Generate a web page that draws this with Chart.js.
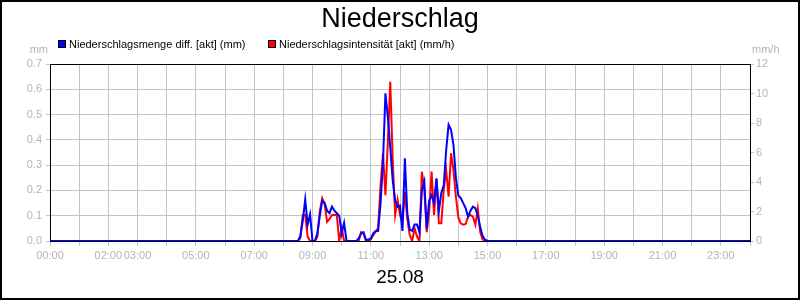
<!DOCTYPE html>
<html>
<head>
<meta charset="utf-8">
<script src="https://cdn.jsdelivr.net/npm/chart.js@4"></script>
<style>
  body { margin: 0; background: #fff; }
  canvas { display: block; }
</style>
</head>
<body>
<canvas id="grafico" width="800" height="300"></canvas>
<script>
// Daten (5-Minuten-Werte)
const zeiten = [
  '00:00',
  '08:30','08:35','08:40','08:45','08:50','08:55',
  '09:00','09:05','09:10','09:15','09:20','09:25','09:30','09:35','09:40','09:45','09:50','09:55',
  '10:00','10:05','10:10','10:15','10:20','10:25','10:30','10:35','10:40','10:45','10:50','10:55',
  '11:00','11:05','11:10','11:15','11:20','11:25','11:30','11:35','11:40','11:45','11:50','11:55',
  '12:00','12:05','12:10','12:15','12:20','12:25','12:30','12:35','12:40','12:45','12:50','12:55',
  '13:00','13:05','13:10','13:15','13:20','13:25','13:30','13:35','13:40','13:45','13:50','13:55',
  '14:00','14:05','14:10','14:15','14:20','14:25','14:30','14:35','14:40','14:45','14:50','14:55',
  '15:00','15:05',
  '24:00'
]

const mengeDiff = [
  0,
  0, 0.02, 0.08, 0.165, 0.065, 0.105,
  0, 0, 0.03, 0.10, 0.159, 0.15, 0.12, 0.11, 0.136, 0.12, 0.11, 0.10,
  0.03, 0.072, 0, 0, 0, 0, 0, 0.01, 0.03, 0.035, 0.005, 0.005,
  0.01, 0.03, 0.04, 0.04, 0.15, 0.31, 0.584, 0.49, 0.37, 0.24, 0.16, 0.135,
  0.14, 0.04, 0.327, 0.11, 0.045, 0.04, 0.065, 0.065, 0.035, 0.2, 0.235, 0.05,
  0.16, 0.18, 0.15, 0.248, 0.12, 0.19, 0.22, 0.36, 0.46, 0.44, 0.38, 0.25,
  0.18, 0.17, 0.15, 0.13, 0.096, 0.12, 0.136, 0.13, 0.1, 0.055, 0.02, 0.005,
  0, 0,
  0
]

const intensitaet = [
  0,
  0, 0.2, 1.76, 1.76, 0.3, 0,
  0, 0, 0.3, 2.0, 2.9, 2.5, 1.3, 1.5, 1.76, 1.76, 1.76, 0,
  0.9, 0, 0, 0, 0, 0, 0, 0, 0.6, 0.5, 0, 0,
  0.1, 0.4, 0.63, 0.9, 3.8, 5.95, 3.1, 6.7, 10.8, 5.5, 1.76, 2.8,
  1.76, 1.2, 3.34, 1.5, 0.4, 0, 0.86, 0.3, 0, 4.7, 3.5, 0.6,
  2.0, 4.7, 1.76, 4.2, 1.2, 1.2, 3.5, 4.8, 3.0, 5.95, 4.8, 3.0,
  1.6, 1.2, 1.1, 1.15, 1.65, 1.76, 1.65, 1.1, 2.2, 0.6, 0.1, 0,
  0, 0,
  0
]

const xBeschriftung = ['00:00','02:00','03:00','05:00','07:00','09:00','11:00','13:00','15:00','17:00','19:00','21:00','23:00']

const grau = '#b4b4b4'
const gitter = '#c4c4c4'
const schrift = '"Liberation Sans", Arial, sans-serif'

Chart.defaults.font.family = schrift
Chart.defaults.font.size = 11

const stunden = t => {
  const [h, m] = t.split(':').map(Number)
  return h + m / 60
}
const punkte = werte => zeiten.map((t, i) => ({ x: stunden(t), y: werte[i] }))

const hh = v => String(v).padStart(2, '0') + ':00'

// Rahmen, Titel, Legende, Einheiten
const rahmen = {
  id: 'rahmen',
  beforeDatasetsDraw(chart) {
    const { ctx, chartArea: a } = chart
    ctx.save()
    ctx.strokeStyle = '#000'
    ctx.lineWidth = 1
    ctx.strokeRect(a.left + 0.5, a.top + 0.5, a.right - a.left, a.bottom - a.top)
    ctx.restore()
  },
  afterDraw(chart) {
    const { ctx, width, height } = chart
    ctx.save()
    ctx.fillStyle = '#000'
    ctx.textBaseline = 'alphabetic'
    ctx.textAlign = 'center'
    ctx.font = '27px ' + schrift
    ctx.fillText('Niederschlag', 400, 27)

    // Legende
    ctx.font = '11px ' + schrift
    ctx.textAlign = 'left'
    const startX = [58, 268]
    chart.data.datasets.forEach((ds, i) => {
      const x = startX[i]
      ctx.fillStyle = ds.borderColor
      ctx.fillRect(x, 40, 8, 8)
      ctx.strokeStyle = '#000'
      ctx.lineWidth = 1
      ctx.strokeRect(x + 0.5, 40.5, 7, 7)
      ctx.fillStyle = '#000'
      ctx.fillText(ds.label, x + 11, 48)
    })

    // Einheiten
    ctx.fillStyle = grau
    ctx.textAlign = 'right'
    ctx.fillText('mm', 48, 53)
    ctx.textAlign = 'left'
    ctx.fillText('mm/h', 752, 53)

    // äußerer Rahmen
    ctx.strokeStyle = '#000'
    ctx.lineWidth = 2
    ctx.strokeRect(1, 1, width - 2, height - 2)
    ctx.restore()
  }
}

const data = {
  datasets: [{
    label: 'Niederschlagsmenge diff. [akt] (mm)',
    data: punkte(mengeDiff),
    borderColor: '#0000ff',
    backgroundColor: '#0000ff',
    borderWidth: 2,
    pointRadius: 0,
    tension: 0,
    yAxisID: 'y'
  }, {
    label: 'Niederschlagsintensität [akt] (mm/h)',
    data: punkte(intensitaet),
    borderColor: '#ff0000',
    backgroundColor: '#ff0000',
    borderWidth: 2,
    pointRadius: 0,
    tension: 0,
    yAxisID: 'y1'
  }]
}

const config = {
  type: 'line',
  data,
  options: {
    responsive: false,
    animation: false,
    layout: { padding: { top: 64, left: 0, right: 0, bottom: 0 } },
    plugins: {
      legend: { display: false },
      title: { display: false },
      tooltip: { enabled: false }
    },
    scales: {
      x: {
        type: 'linear',
        min: 0,
        max: 24,
        border: { display: false },
        grid: { color: gitter, tickColor: gitter, tickLength: 5 },
        ticks: {
          stepSize: 1,
          autoSkip: false,
          maxRotation: 0,
          color: grau,
          padding: 3,
          callback: v => xBeschriftung.includes(hh(v)) ? hh(v) : ''
        },
        title: {
          display: true,
          text: '25.08',
          color: '#000',
          font: { size: 19 },
          padding: { top: 0, bottom: 11 }
        },
        afterFit: s => { s.height = 59 }
      },
      y: {
        position: 'left',
        min: 0,
        max: 0.7,
        border: { display: false },
        grid: { color: gitter, tickColor: gitter, tickLength: 4 },
        ticks: { stepSize: 0.1, color: grau, padding: 4, callback: v => v.toFixed(1) },
        afterFit: s => { s.width = 50 }
      },
      y1: {
        position: 'right',
        min: 0,
        max: 12,
        border: { display: false },
        grid: { drawOnChartArea: false, color: gitter, tickColor: gitter, tickLength: 4 },
        ticks: { stepSize: 2, color: grau, padding: 2 },
        afterFit: s => { s.width = 50 }
      }
    }
  },
  plugins: [rahmen]
}

const graph = new Chart(document.getElementById('grafico'), config)
</script>
</body>
</html>
